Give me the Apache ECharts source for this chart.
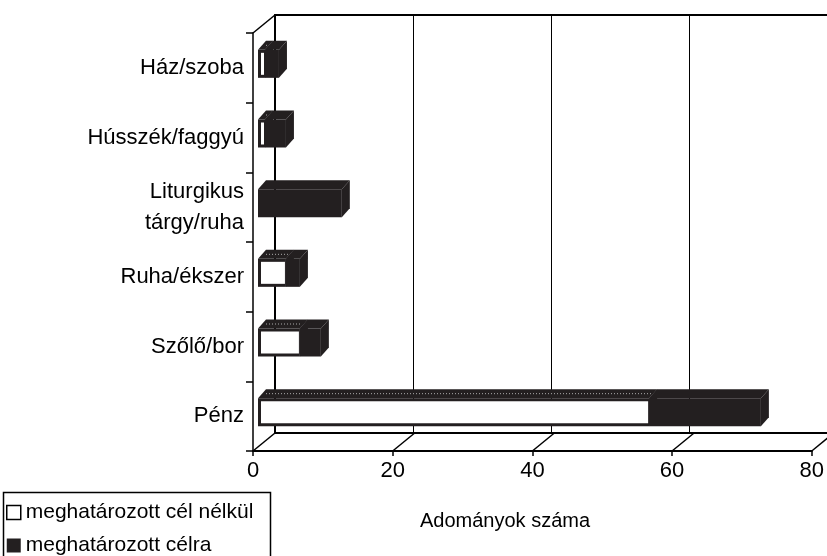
<!DOCTYPE html>
<html>
<head>
<meta charset="utf-8">
<script src="https://cdn.jsdelivr.net/npm/echarts@6/dist/echarts.min.js"></script>
<style>
  html, body { margin: 0; padding: 0; background: #fff; }
  #chart { width: 827px; height: 556px; }
</style>
</head>
<body>
<div id="chart"></div>
<script>
// data (top to bottom)
const categories = ['Ház/szoba', 'Hússzék/faggyú', 'Liturgikus\ntárgy/ruha', 'Ruha/ékszer', 'Szőlő/bor', 'Pénz']
const withoutPurpose = [1, 1, 0, 4, 6, 56]
const withPurpose = [2, 3, 12, 2, 3, 16]
const xTicks = [0, 20, 40, 60, 80]
const seriesNames = ['meghatározott cél nélkül', 'meghatározott célra']

const FONT = '"Liberation Sans", Arial, sans-serif'
const INK = '#231f20'
const WALL = [22, -18]      // offset of the back wall
const BAR_SHIFT = [5, -4]   // bars sit a little behind the front plane
const BAR_DEPTH = [8, -9]
const BAR_H = 28

const chart = echarts.init(document.getElementById('chart'))

const whiteData = categories.map((c, i) => [i, 0, withoutPurpose[i]])
const blackData = categories.map((c, i) => [i, withoutPurpose[i], withoutPurpose[i] + withPurpose[i]])

const barItem = (kind) => (params, api) => {
  const cat = api.value(0)
  const a = api.value(1)
  const b = api.value(2)
  if (b <= a) return null
  const p0 = api.coord([a, cat])
  const p1 = api.coord([b, cat])
  const x0 = p0[0] + BAR_SHIFT[0]
  const x1 = p1[0] + BAR_SHIFT[0]
  const yc = p0[1] + BAR_SHIFT[1]
  const top = yc - BAR_H / 2
  const bot = yc + BAR_H / 2
  const dx = BAR_DEPTH[0], dy = BAR_DEPTH[1]
  const children = [
    { type: 'polygon', shape: { points: [[x0, top], [x0 + dx, top + dy], [x1 + dx, top + dy], [x1, top]] }, style: { fill: INK } },
    { type: 'polygon', shape: { points: [[x1, top], [x1 + dx, top + dy], [x1 + dx, bot + dy], [x1, bot]] }, style: { fill: INK } },
    { type: 'rect', shape: { x: x0, y: top, width: x1 - x0, height: BAR_H }, style: { fill: INK } }
  ]
  if (kind === 'white') {
    children.push({ type: 'rect', shape: { x: x0 + 3, y: top + 3, width: Math.max(x1 - x0 - 4, 0), height: BAR_H - 6 }, style: { fill: '#fff' } })
    children.push({ type: 'line', shape: { x1: x0 + dx / 2 + 4, y1: top + dy / 2, x2: x1 + dx / 2 - 2, y2: top + dy / 2 }, style: { stroke: '#aaa', lineWidth: 1, lineDash: [1, 2] } })
  }
  return { type: 'group', children }
}

const frameItem = (params, api) => {
  const cs = params.coordSys
  const x = api.coord([api.value(0), 0])[0]
  const yb = cs.y + cs.height
  const children = [
    { type: 'line', shape: { x1: x, y1: yb, x2: x + WALL[0], y2: yb + WALL[1] }, style: { stroke: '#000', lineWidth: 1.5 } }
  ]
  if (api.value(0) === 0) {
    children.push({ type: 'line', shape: { x1: cs.x, y1: cs.y, x2: cs.x + WALL[0], y2: cs.y + WALL[1] }, style: { stroke: '#000', lineWidth: 1.5 } })
  }
  return { type: 'group', children }
}

const option = {
  animation: false,
  textStyle: { fontFamily: FONT },
  grid: [
    { left: 253, top: 33, width: 561, height: 418 },
    { left: 275, top: 15, width: 561, height: 418 }
  ],
  xAxis: [
    {
      gridIndex: 0, type: 'value', min: 0, max: 80, interval: 20,
      axisLine: { show: true, lineStyle: { color: '#000', width: 2 } },
      axisTick: { show: true, length: 5, lineStyle: { color: '#000', width: 1.5 } },
      axisLabel: { fontSize: 22, color: '#000', margin: 9, fontFamily: FONT },
      splitLine: { show: false }
    },
    {
      gridIndex: 1, type: 'value', min: 0, max: 80, interval: 20,
      axisLine: { show: true, lineStyle: { color: '#000', width: 2 } },
      axisTick: { show: false }, axisLabel: { show: false },
      splitLine: { show: true, lineStyle: { color: '#000', width: 1 } }
    },
    {
      gridIndex: 1, type: 'value', position: 'top', min: 0, max: 80,
      axisLine: { show: true, lineStyle: { color: '#000', width: 2 } },
      axisTick: { show: false }, axisLabel: { show: false }, splitLine: { show: false }
    }
  ],
  yAxis: [
    {
      gridIndex: 0, type: 'category', data: categories, inverse: true,
      axisLine: { show: true, lineStyle: { color: '#000', width: 1.5 } },
      axisTick: { show: true, length: 7, lineStyle: { color: '#000', width: 1.5 } },
      axisLabel: { fontSize: 22, color: '#000', margin: 9, lineHeight: 31, fontFamily: FONT }
    },
    {
      gridIndex: 1, type: 'category', data: categories, inverse: true,
      axisLine: { show: true, lineStyle: { color: '#000', width: 2 } },
      axisTick: { show: false }, axisLabel: { show: false }
    }
  ],
  legend: {
    orient: 'vertical', left: 6, top: 502,
    padding: 0,
    itemWidth: 14, itemHeight: 14, itemGap: 12,
    icon: 'rect',
    textStyle: { fontSize: 21, color: '#000', fontFamily: FONT },
    data: [
      { name: seriesNames[0], itemStyle: { color: '#fff', borderColor: '#000', borderWidth: 1.5 } },
      { name: seriesNames[1], itemStyle: { color: INK } }
    ]
  },
  graphic: [
    { type: 'rect', left: 1, top: 490, shape: { width: 267, height: 100 }, style: { fill: 'none', stroke: '#000', lineWidth: 1.5 }, z: -1 },
    { type: 'text', left: 420, top: 511, style: { text: 'Adományok száma', fontSize: 20, fill: '#000', fontFamily: FONT } }
  ],
  series: [
    {
      type: 'custom', silent: true, xAxisIndex: 0, yAxisIndex: 0,
      data: xTicks.map(v => [v, 0]), encode: { x: 0, y: 1 },
      renderItem: frameItem, z: 1
    },
    {
      name: seriesNames[0], type: 'custom', xAxisIndex: 0, yAxisIndex: 0,
      data: whiteData, encode: { y: 0, x: [1, 2] },
      itemStyle: { color: '#fff', borderColor: '#000' },
      renderItem: barItem('white'), z: 3
    },
    {
      name: seriesNames[1], type: 'custom', xAxisIndex: 0, yAxisIndex: 0,
      data: blackData, encode: { y: 0, x: [1, 2] },
      itemStyle: { color: INK },
      renderItem: barItem('black'), z: 4
    }
  ]
}

chart.setOption(option)
</script>
</body>
</html>
